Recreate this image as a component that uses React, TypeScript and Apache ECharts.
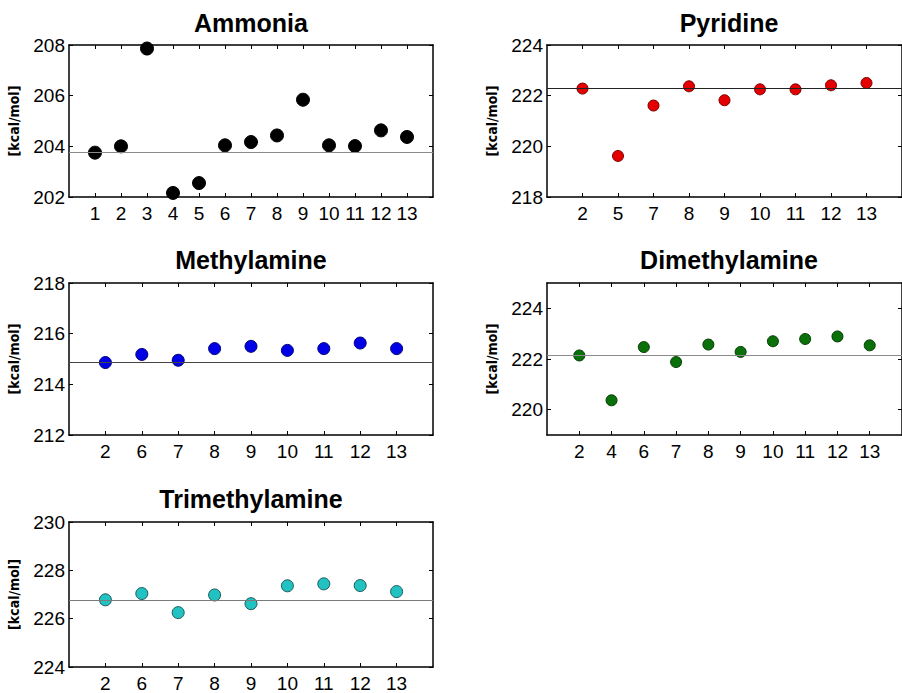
import React, { useEffect, useRef } from "react";
import * as echarts from "echarts";

// ---- data ----
const ammoniaCats = ["1", "2", "3", "4", "5", "6", "7", "8", "9", "10", "11", "12", "13"];
const ammoniaVals = [203.75, 204.0, 207.86, 202.16, 202.55, 204.04, 204.17, 204.43, 205.84, 204.04, 204.01, 204.63, 204.37];
const ammoniaRef = 203.76;
const ammoniaTicks = [202, 204, 206, 208];

const pyridineCats = ["2", "5", "7", "8", "9", "10", "11", "12", "13"];
const pyridineVals = [222.28, 219.62, 221.61, 222.37, 221.82, 222.25, 222.25, 222.41, 222.5];
const pyridineRef = 222.28;
const pyridineTicks = [218, 220, 222, 224];

const methylCats = ["2", "6", "7", "8", "9", "10", "11", "12", "13"];
const methylVals = [214.86, 215.18, 214.95, 215.41, 215.5, 215.34, 215.41, 215.63, 215.41];
const methylRef = 214.86;
const methylTicks = [212, 214, 216, 218];

const dimethylCats = ["2", "4", "6", "7", "8", "9", "10", "11", "12", "13"];
const dimethylVals = [222.14, 220.37, 222.47, 221.88, 222.57, 222.28, 222.7, 222.79, 222.89, 222.54];
const dimethylRef = 222.14;
const dimethylTicks = [220, 222, 224];

const trimethylCats = ["2", "6", "7", "8", "9", "10", "11", "12", "13"];
const trimethylVals = [226.78, 227.04, 226.25, 226.98, 226.62, 227.36, 227.44, 227.37, 227.12];
const trimethylRef = 226.78;
const trimethylTicks = [224, 226, 228, 230];

const titles = ["Ammonia", "Pyridine", "Methylamine", "Dimethylamine", "Trimethylamine"];
const yUnit = "[kcal/mol]";

// ---- layout & style ----
const panels = [
  { title: titles[0], cats: ammoniaCats, vals: ammoniaVals, ref: ammoniaRef, ticks: ammoniaTicks, yMin: 202, yMax: 208,
    left: 69, top: 45, titleTop: 10, fill: "#000000", edge: "#000000", line: "#8a8a8a", size: 13 },
  { title: titles[1], cats: pyridineCats, vals: pyridineVals, ref: pyridineRef, ticks: pyridineTicks, yMin: 218, yMax: 224,
    left: 547, top: 45, titleTop: 10, fill: "#e40000", edge: "#7a0000", line: "#222222", size: 11 },
  { title: titles[2], cats: methylCats, vals: methylVals, ref: methylRef, ticks: methylTicks, yMin: 212, yMax: 218,
    left: 69, top: 283, titleTop: 247, fill: "#0000e6", edge: "#00007a", line: "#444444", size: 12 },
  { title: titles[3], cats: dimethylCats, vals: dimethylVals, ref: dimethylRef, ticks: dimethylTicks, yMin: 219, yMax: 225,
    left: 547, top: 283, titleTop: 247, fill: "#0a700a", edge: "#053d05", line: "#8a8a8a", size: 11 },
  { title: titles[4], cats: trimethylCats, vals: trimethylVals, ref: trimethylRef, ticks: trimethylTicks, yMin: 224, yMax: 230,
    left: 69, top: 522, titleTop: 486, fill: "#22c2c2", edge: "#1a5a5a", line: "#7a7a7a", size: 12 },
];

const W = 364;
const H = 152;
const FONT = "'Liberation Sans', Arial, Helvetica, sans-serif";
const NARROW = "'Liberation Sans Narrow', 'DejaVu Sans Condensed', 'Liberation Sans', sans-serif";

export default function App() {
  const ref = useRef<HTMLDivElement>(null);
  useEffect(() => {
    if (!ref.current) return;
    const chart = echarts.init(ref.current, null, { renderer: "svg" });
    const grid: any[] = [];
    const xAxis: any[] = [];
    const yAxis: any[] = [];
    const series: any[] = [];
    const title: any[] = [];
    panels.forEach((p, i) => {
      const n = p.cats.length;
      const idx = p.cats.map((_, k) => k + 1);
      grid.push({ left: p.left, top: p.top, width: W, height: H, show: false });
      title.push({
        text: p.title,
        left: p.left + W / 2,
        top: p.titleTop,
        padding: 0,
        textAlign: "center",
        textStyle: { fontFamily: FONT, fontSize: 25, fontWeight: "bold", color: "#000" },
      });
      const axLine = { show: true, onZero: false, lineStyle: { color: "#000", width: 1.5 } };
      const tick = { show: true, inside: true, length: 4, lineStyle: { color: "#000", width: 1 } };
      xAxis.push({
        type: "value", gridIndex: i, position: "bottom", min: 0, max: n + 1,
        axisLine: axLine,
        axisTick: { ...tick, customValues: idx },
        axisLabel: {
          show: true, customValues: idx, margin: 7,
          formatter: (v: number) => p.cats[Math.round(v) - 1] ?? "",
          fontFamily: FONT, fontSize: 19, color: "#000",
        },
        splitLine: { show: false },
      });
      xAxis.push({
        type: "value", gridIndex: i, position: "top", min: 0, max: n + 1,
        axisLine: axLine,
        axisTick: { ...tick, customValues: idx },
        axisLabel: { show: false },
        splitLine: { show: false },
      });
      yAxis.push({
        type: "value", gridIndex: i, position: "left", min: p.yMin, max: p.yMax,
        axisLine: axLine,
        axisTick: { ...tick, customValues: p.ticks },
        axisLabel: {
          show: true, customValues: p.ticks, margin: 4,
          fontFamily: FONT, fontSize: 19, color: "#000",
        },
        splitLine: { show: false },
        name: yUnit,
        nameLocation: "middle",
        nameGap: 48,
        nameRotate: 90,
        nameTextStyle: { fontFamily: NARROW, fontSize: 14, fontWeight: "bold", color: "#000" },
      });
      yAxis.push({
        type: "value", gridIndex: i, position: "right", min: p.yMin, max: p.yMax,
        axisLine: axLine,
        axisTick: { ...tick, customValues: p.ticks },
        axisLabel: { show: false },
        splitLine: { show: false },
      });
      series.push({
        type: "scatter",
        xAxisIndex: 2 * i,
        yAxisIndex: 2 * i,
        data: p.vals.map((v, k) => [k + 1, v]),
        symbol: "circle",
        symbolSize: p.size,
        itemStyle: { color: p.fill, borderColor: p.edge, borderWidth: 1, opacity: 1 },
        markLine: {
          silent: true,
          symbol: "none",
          label: { show: false },
          lineStyle: { color: p.line, width: 1.2, type: "solid" },
          data: [{ yAxis: p.ref }],
        },
        z: 3,
      });
    });
    chart.setOption({
      animation: false,
      backgroundColor: "#ffffff",
      title,
      grid,
      xAxis,
      yAxis,
      series,
    });
    return () => chart.dispose();
  }, []);
  return (
    <div
      ref={ref}
      style={{ position: "fixed", left: 0, top: 0, width: 902, height: 693 }}
    />
  );
}
